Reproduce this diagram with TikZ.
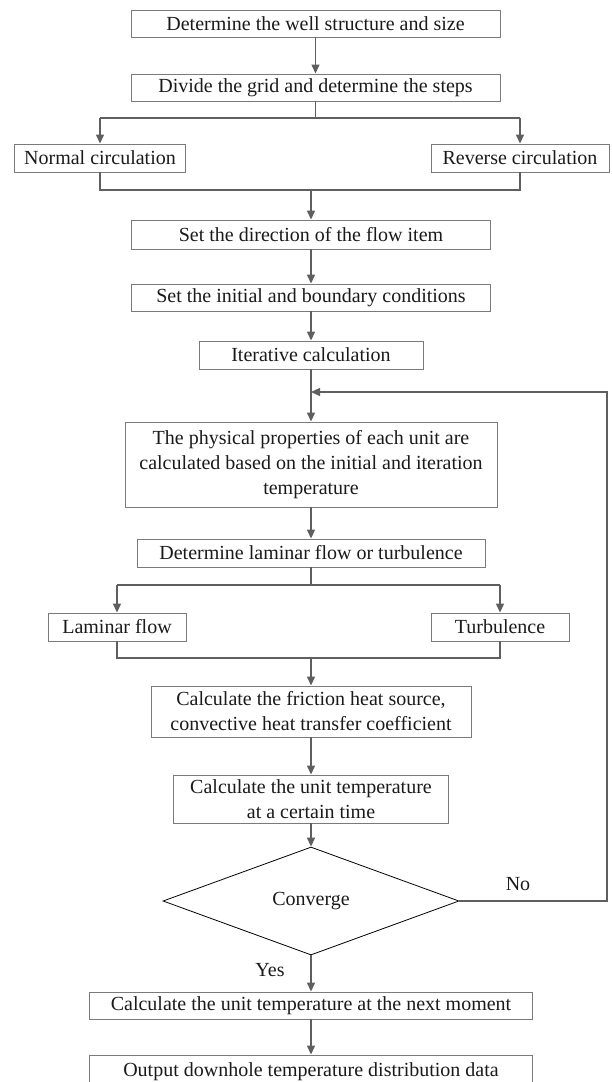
\documentclass[tikz,border=0pt]{standalone}
\usepackage{fontspec}
\setmainfont{Liberation Serif}
\usetikzlibrary{arrows.meta,shapes.geometric}
\definecolor{boxgray}{HTML}{7A7A7A}
\definecolor{linegray}{HTML}{5F5F5F}
\definecolor{textc}{HTML}{1A1A1A}
\begin{document}
\begin{tikzpicture}[x=1pt,y=-1pt,
  box/.style={draw=boxgray,line width=0.9pt,inner sep=0pt,align=center,
    font=\fontsize{20}{25}\selectfont,text=textc},
  lbl/.style={inner sep=0pt,font=\fontsize{20}{25}\selectfont,text=textc},
  conn/.style={draw=linegray,line width=1.3pt},
  arr/.style={conn,-{Triangle[length=9pt,width=8pt]}},
]
\useasboundingbox (0,0) rectangle (611,1082);

\node[box,minimum width=369pt,minimum height=27pt] (b1) at (315.5,23.5) {Determine the well structure and size};
\node[box,minimum width=369pt,minimum height=27pt] (b2) at (315.5,87.5) {Divide the grid and determine the steps};
\node[box,minimum width=171pt,minimum height=28pt] (normal) at (100,158) {Normal circulation};
\node[box,minimum width=178pt,minimum height=28pt] (reverse) at (520,158) {Reverse circulation};
\node[box,minimum width=359pt,minimum height=29pt] (dir) at (311,234.5) {Set the direction of the flow item};
\node[box,minimum width=359pt,minimum height=27pt] (init) at (311,297.5) {Set the initial and boundary conditions};
\node[box,minimum width=224pt,minimum height=28pt] (iter) at (311,355) {Iterative calculation};
\node[box,minimum width=372pt,minimum height=85pt] (phys) at (311,464.5) {The physical properties of each unit are\\calculated based on the initial and iteration\\temperature};
\node[box,minimum width=348pt,minimum height=28pt] (lamq) at (311,553) {Determine laminar flow or turbulence};
\node[box,minimum width=138pt,minimum height=28pt] (laminar) at (117,627) {Laminar flow};
\node[box,minimum width=138pt,minimum height=28pt] (turb) at (500,627) {Turbulence};
\node[box,minimum width=320pt,minimum height=51pt] (fric) at (311,711.5) {Calculate the friction heat source,\\convective heat transfer coefficient};
\node[box,minimum width=275pt,minimum height=48pt] (unit) at (311,799) {Calculate the unit temperature\\at a certain time};
\node[draw=black,line width=0.8pt,diamond,minimum width=296pt,minimum height=108pt,inner sep=0pt,
  font=\fontsize{20}{25}\selectfont,text=textc] (conv) at (311,901) {Converge};
\node[box,minimum width=443pt,minimum height=27pt] (next) at (311,1005.5) {Calculate the unit temperature at the next moment};
\node[box,minimum width=443pt,minimum height=34pt] (out) at (311,1072) {Output downhole temperature distribution data};

\node[lbl] (no) at (518,884) {No};
\node[lbl] (yes) at (270,970) {Yes};

% top
\draw[arr] (b1.south) -- (b2.north);
\coordinate (br1) at (315.5,118);
\coordinate (brL) at (100,118);
\coordinate (brR) at (520,118);
\draw[conn] (b2.south) -- (br1);
\draw[conn] (brL) -- (brR);
\draw[arr] (brL) -- (normal.north);
\draw[arr] (brR) -- (reverse.north);
\coordinate (jL) at (100,190);
\coordinate (jR) at (520,190);
\coordinate (jM) at (311,190);
\draw[conn] (normal.south) -- (jL) -- (jR) -- (reverse.south);
\draw[arr] (jM) -- (dir.north);
\draw[arr] (dir.south) -- (init.north);
\draw[arr] (init.south) -- (iter.north);
\draw[arr] (iter.south) -- (phys.north);
\draw[arr] (phys.south) -- (lamq.north);
% laminar / turbulence
\coordinate (b2L) at (117,585);
\coordinate (b2R) at (500,585);
\coordinate (b2M) at (311,585);
\draw[conn] (lamq.south) -- (b2M);
\draw[conn] (b2L) -- (b2R);
\draw[arr] (b2L) -- (laminar.north);
\draw[arr] (b2R) -- (turb.north);
\coordinate (j2L) at (117,658);
\coordinate (j2R) at (500,658);
\coordinate (j2M) at (311,658);
\draw[conn] (laminar.south) -- (j2L) -- (j2R) -- (turb.south);
\draw[arr] (j2M) -- (fric.north);
\draw[arr] (fric.south) -- (unit.north);
\draw[arr] (unit.south) -- (conv.north);
% loop
\coordinate (lr) at (607,901);
\coordinate (ur) at (607,392);
\coordinate (ul) at (311,392);
\draw[arr] (conv.east) -- (lr) -- (ur) -- (ul);
% bottom
\draw[arr] (conv.south) -- (next.north);
\draw[arr] (next.south) -- (out.north);
\end{tikzpicture}
\end{document}
